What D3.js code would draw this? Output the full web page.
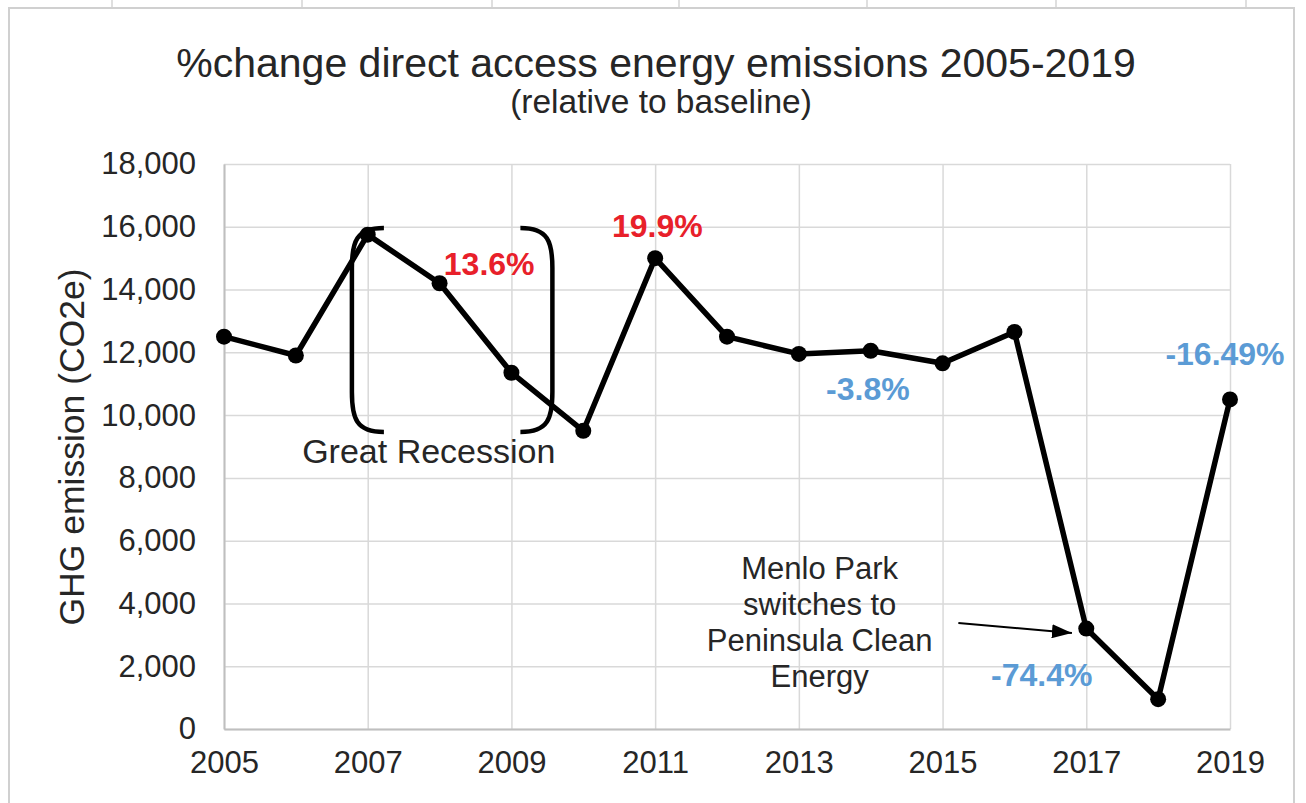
<!DOCTYPE html>
<html>
<head>
<meta charset="utf-8">
<script src="https://cdn.jsdelivr.net/npm/d3@7"></script>
<style>
  body { margin: 0; background: #fff; }
  svg { display: block; font-family: "Liberation Sans", Arial, sans-serif; }
</style>
</head>
<body>
<svg id="chart" width="1306" height="803"></svg>
<script>
// data
const years = [2005, 2006, 2007, 2008, 2009, 2010, 2011, 2012, 2013, 2014, 2015, 2016, 2017, 2018, 2019];
const emissions = [12500, 11900, 15750, 14200, 11350, 9500, 15000, 12500, 11950, 12050, 11650, 12650, 3200, 950, 10500];
const yTicks = [0, 2000, 4000, 6000, 8000, 10000, 12000, 14000, 16000, 18000];
const xTicks = [2005, 2007, 2009, 2011, 2013, 2015, 2017, 2019];

// percent-change callouts, placed in data units (year, value)
const pctLabels = [
    {text: "13.6%", year: 2008.69, value: 14460, color: "#e8202a"},
    {text: "19.9%", year: 2011.03, value: 15670, color: "#e8202a"},
    {text: "-3.8%", year: 2013.96, value: 10480, color: "#5b9bd5"},
    {text: "-16.49%", year: 2018.93, value: 11600, color: "#5b9bd5"},
    {text: "-74.4%", year: 2016.38, value: 1370, color: "#5b9bd5"}
];
const recessionBrackets = {left: 2006.78, right: 2009.57, top: 15960, bottom: 9460};
const recessionLabel = {text: "Great Recession", year: 2007.85, value: 8474};
const menloLines = ["Menlo Park", "switches to", "Peninsula Clean", "Energy"];
const menloAnchor = {year: 2013.29, value: 4779};
const menloArrow = {fromYear: 2015.22, fromValue: 3380, toYear: 2016.8, toValue: 3060};

const svg = d3.select("#chart");
const margin = {top: 164, right: 76, bottom: 74, left: 224},
    width = 1306 - margin.left - margin.right,
    height = 803 - margin.top - margin.bottom;

// spreadsheet frame behind the chart
const colLines = [112, 302, 492, 679, 867, 1056, 1246];
svg.selectAll(".col").data(colLines).enter().append("line")
    .attr("x1", d => d).attr("x2", d => d)
    .attr("y1", 0).attr("y2", 8)
    .attr("stroke", "#d4d4d4").attr("stroke-width", 1.5);
svg.append("path")
    .attr("d", "M9,810 L9,8 L1294,8 L1294,810")
    .attr("fill", "none").attr("stroke", "#d0d0d0").attr("stroke-width", 2);

svg.append("text")
    .attr("x", 656).attr("y", 77)
    .attr("text-anchor", "middle")
    .attr("font-size", 41).attr("fill", "#262626")
    .text("%change direct access energy emissions 2005-2019");
svg.append("text")
    .attr("x", 661).attr("y", 113)
    .attr("text-anchor", "middle")
    .attr("font-size", 33.5).attr("fill", "#262626")
    .text("(relative to baseline)");

const g = svg.append("g").attr("transform", "translate(" + margin.left + "," + margin.top + ")");

const x = d3.scaleLinear().domain([2005, 2019]).range([0, width]);
const y = d3.scaleLinear().domain([0, 18000]).range([height, 0]);

// gridlines
g.append("g")
    .call(d3.axisLeft(y).tickValues(yTicks).tickSize(-width).tickFormat(""))
    .call(a => a.select(".domain").remove())
    .call(a => a.selectAll("line").attr("stroke", "#d9d9d9").attr("stroke-width", 1.5));
g.append("g")
    .call(d3.axisBottom(x).tickValues(xTicks).tickSize(height).tickFormat(""))
    .call(a => a.select(".domain").remove())
    .call(a => a.selectAll("line").attr("stroke", "#d9d9d9").attr("stroke-width", 1.5));

// axes
g.append("g")
    .call(d3.axisLeft(y).tickValues(yTicks).tickSize(0).tickPadding(28).tickFormat(d3.format(",")))
    .call(a => a.select(".domain").attr("stroke", "#bfbfbf").attr("stroke-width", 2))
    .call(a => a.selectAll("text").attr("font-size", 31).attr("fill", "#262626")
        .attr("font-family", "Liberation Sans, Arial, sans-serif"));
g.append("g")
    .attr("transform", "translate(0," + height + ")")
    .call(d3.axisBottom(x).tickValues(xTicks).tickSize(0).tickPadding(22).tickFormat(d3.format("d")))
    .call(a => a.select(".domain").attr("stroke", "#bfbfbf").attr("stroke-width", 2))
    .call(a => a.selectAll("text").attr("font-size", 31).attr("fill", "#262626")
        .attr("font-family", "Liberation Sans, Arial, sans-serif"));

svg.append("text")
    .attr("transform", "translate(84,447) rotate(-90)")
    .attr("text-anchor", "middle")
    .attr("font-size", 35.5).attr("fill", "#262626")
    .text("GHG emission (CO2e)");

// recession brackets
const bTop = y(recessionBrackets.top), bBot = y(recessionBrackets.bottom);
const bl = x(recessionBrackets.left), br = x(recessionBrackets.right), bw = 32;
g.append("path")
    .attr("d", `M${bl + bw},${bTop} C${bl + 4},${bTop} ${bl},${bTop + 14} ${bl},${bTop + 40} L${bl},${bBot - 40} C${bl},${bBot - 14} ${bl + 4},${bBot} ${bl + bw},${bBot}`)
    .attr("fill", "none").attr("stroke", "#000").attr("stroke-width", 4.5);
g.append("path")
    .attr("d", `M${br - bw},${bTop} C${br - 4},${bTop} ${br},${bTop + 14} ${br},${bTop + 40} L${br},${bBot - 40} C${br},${bBot - 14} ${br - 4},${bBot} ${br - bw},${bBot}`)
    .attr("fill", "none").attr("stroke", "#000").attr("stroke-width", 4.5);

// series
const series = years.map((yr, i) => ({year: yr, value: emissions[i]}));
const line = d3.line().x(d => x(d.year)).y(d => y(d.value));
g.append("path")
    .datum(series)
    .attr("fill", "none")
    .attr("stroke", "#000")
    .attr("stroke-width", 5.5)
    .attr("stroke-linejoin", "round")
    .attr("d", line);
g.selectAll(".dot").data(series).enter().append("circle")
    .attr("cx", d => x(d.year)).attr("cy", d => y(d.value))
    .attr("r", 8).attr("fill", "#000");

// labels
g.selectAll(".pct").data(pctLabels).enter().append("text")
    .attr("x", d => x(d.year)).attr("y", d => y(d.value))
    .attr("text-anchor", "middle")
    .attr("font-size", 32).attr("font-weight", "bold")
    .attr("fill", d => d.color)
    .text(d => d.text);

g.append("text")
    .attr("x", x(recessionLabel.year)).attr("y", y(recessionLabel.value))
    .attr("text-anchor", "middle")
    .attr("font-size", 34).attr("fill", "#262626")
    .text(recessionLabel.text);

g.selectAll(".menlo").data(menloLines).enter().append("text")
    .attr("x", x(menloAnchor.year))
    .attr("y", (d, i) => y(menloAnchor.value) + i * 36)
    .attr("text-anchor", "middle")
    .attr("font-size", 31).attr("fill", "#262626")
    .text(d => d);

svg.append("defs").append("marker")
    .attr("id", "arrow").attr("viewBox", "0 0 20 14")
    .attr("refX", 20).attr("refY", 7)
    .attr("markerWidth", 20).attr("markerHeight", 14)
    .attr("markerUnits", "userSpaceOnUse")
    .attr("orient", "auto")
    .append("path").attr("d", "M0,0 L20,7 L0,14 Z").attr("fill", "#000");
g.append("line")
    .attr("x1", x(menloArrow.fromYear)).attr("y1", y(menloArrow.fromValue))
    .attr("x2", x(menloArrow.toYear)).attr("y2", y(menloArrow.toValue))
    .attr("stroke", "#000").attr("stroke-width", 2)
    .attr("marker-end", "url(#arrow)");
</script>
</body>
</html>
